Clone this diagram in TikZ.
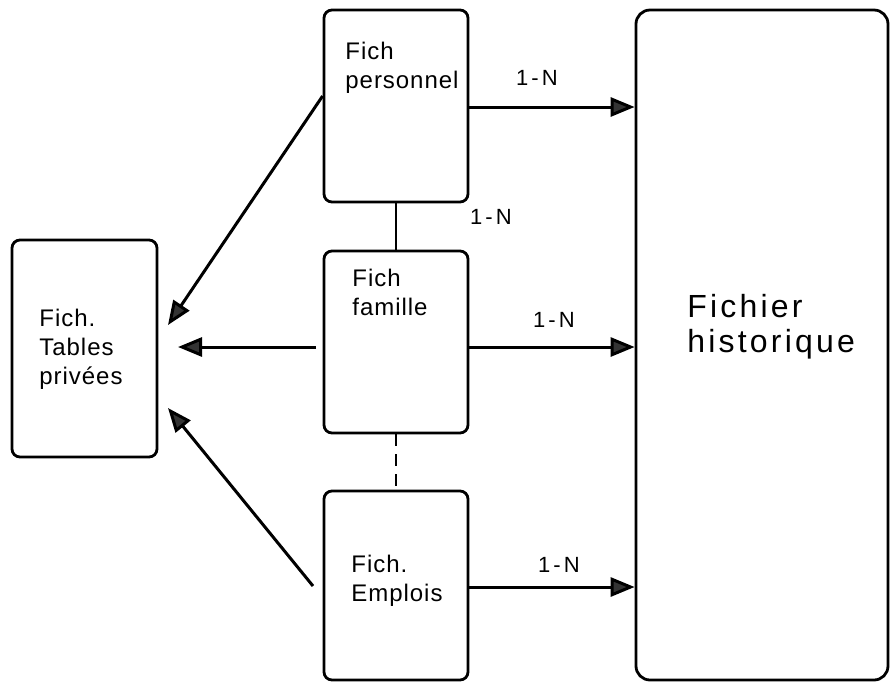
\documentclass[tikz,border=0pt]{standalone}
\usepackage{fontspec}
\setmainfont{Liberation Sans}
\usetikzlibrary{arrows.meta}
\tikzset{
  boite/.style={draw,line width=1.4pt,rounded corners=4pt,inner sep=0pt},
  texte/.style={font=\fontsize{12}{14.5}\selectfont\addfontfeature{LetterSpace=4},
    align=left,inner sep=0pt,anchor=north west},
  grand/.style={font=\fontsize{16}{17.5}\selectfont\addfontfeature{LetterSpace=10},
    align=left,inner sep=0pt,anchor=north west},
  card/.style={font=\fontsize{11}{12}\selectfont\addfontfeature{LetterSpace=14},inner sep=0pt},
  fleche/.style={line width=1.5pt,-{Triangle[length=12pt,width=9.5pt,fill=black!80]}},
}
\begin{document}
\begin{tikzpicture}[x=0.5pt,y=-0.5pt]
    \useasboundingbox (0,0) rectangle (890,682);
    %% Boxes
    \node[boite,minimum width=72.5pt,minimum height=108.5pt] (tables) at (84.5,348.5) {};
    \node[boite,minimum width=72pt,minimum height=96pt] (pers) at (396,106) {};
    \node[boite,minimum width=72pt,minimum height=91pt] (fam) at (396,342) {};
    \node[boite,minimum width=72pt,minimum height=94.5pt] (empl) at (396,585.5) {};
    \node[boite,rounded corners=7pt,minimum width=126pt,minimum height=335pt] (hist) at (762,345) {};
    %% Texts
    \node[texte] (ttables) at (39,309) {Fich.\\Tables\\privées};
    \node[texte] (tpers) at (345,42) {Fich\\personnel};
    \node[texte] (tfam) at (352,269) {Fich\\famille};
    \node[texte] (templ) at (351,555) {Fich.\\Emplois};
    \node[grand] (thist) at (687,294) {Fichier\\historique};
    %% Links between files
    \draw[line width=1pt] (pers.south) -- (fam.north);
    \draw[line width=1.2pt,dash pattern=on 6pt off 4pt] (fam.south) -- (empl.north);
    \node[card] (cpf) at (491,217) {1-N};
    %% To the history
    \draw[fleche] (pers.east |- 0,107) -- (hist.west |- 0,107);
    \draw[fleche] (fam.east |- 0,347) -- (hist.west |- 0,347);
    \draw[fleche] (empl.east |- 0,587) -- (hist.west |- 0,587);
    \node[card] (cph) at (537,78) {1-N};
    \node[card] (cfh) at (554,320) {1-N};
    \node[card] (ceh) at (559,565) {1-N};
    %% To the private tables
    \coordinate (p1) at (168,325);
    \coordinate (p2) at (178,347);
    \coordinate (p3) at (168,408);
    \draw[fleche] (pers.west |- 0,96) -- (p1);
    \draw[fleche] (316,347) -- (p2);
    \draw[fleche] (313,586) -- (p3);
\end{tikzpicture}
\end{document}
